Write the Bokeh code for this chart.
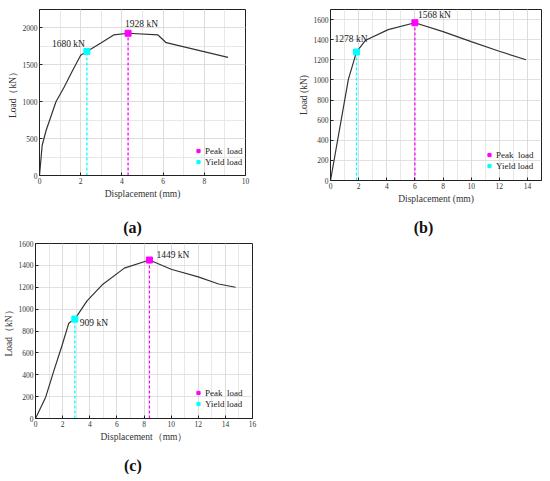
from bokeh.plotting import figure
from bokeh.models import (Range1d, SingleIntervalTicker, Legend, LegendItem, Label)
from bokeh.layouts import column, row
from bokeh.embed import file_html
from bokeh.resources import INLINE

# ---------------- data ----------------
a_x = [0, 0.13, 0.32, 0.8, 1.2, 1.6, 2.0, 2.3, 3.0, 3.6, 4.3, 5.75, 6.15, 9.15]
a_y = [0, 410, 610, 1000, 1200, 1420, 1630, 1680, 1800, 1905, 1928, 1905, 1800, 1600]
a_peak = (4.3, 1928)
a_yield = (2.3, 1680)

b_x = [0, 1.27, 1.85, 2.5, 4.1, 6.0, 8.0, 10.0, 12.0, 13.9]
b_y = [0, 1005, 1278, 1395, 1500, 1568, 1480, 1380, 1285, 1200]
b_peak = (6.0, 1568)
b_yield = (1.85, 1278)

c_x = [0, 0.75, 1.35, 1.95, 2.45, 2.9, 3.8, 4.9, 6.55, 8.4, 10.0, 12.0, 13.5, 14.75]
c_y = [0, 195, 435, 665, 870, 909, 1075, 1220, 1375, 1449, 1365, 1295, 1230, 1200]
c_peak = (8.4, 1449)
c_yield = (2.9, 909)

legend_labels = ["Peak  load", "Yield load"]
tags = ["(a)", "(b)", "(c)"]
PEAK_C = "#ff00ff"
YIELD_C = "#00ffff"
FONT = "Liberation Serif"


def make_panel(xs, ys, peak, yld, xr, yr, xint, yint, y_minor, xlabel, ylabel,
               fw, fh, bl, br, bt, bb, peak_lab, yield_lab, leg_loc):
    p = figure(frame_width=fw, frame_height=fh, output_backend="svg", toolbar_location=None,
               x_range=Range1d(*xr), y_range=Range1d(*yr),
               min_border_left=bl, min_border_right=br, min_border_top=bt, min_border_bottom=bb)
    p.background_fill_color = "white"
    p.border_fill_color = "white"
    p.outline_line_color = "#222222"
    p.outline_line_width = 1

    for ax, tk, nm in ((p.xaxis[0], xint, 2), (p.yaxis[0], yint, y_minor)):
        ax.ticker = SingleIntervalTicker(interval=tk, num_minor_ticks=nm)
        ax.major_tick_in = 3
        ax.major_tick_out = 0
        ax.minor_tick_in = 0
        ax.minor_tick_out = 0
        ax.axis_line_color = "#222222"
        ax.major_tick_line_color = "#222222"
        ax.major_label_text_font = FONT
        ax.major_label_text_font_size = "7.5px"
        ax.major_label_text_color = "#333333"
        ax.major_label_standoff = 2
        ax.axis_label_text_font = FONT
        ax.axis_label_text_font_size = "9.5px"
        ax.axis_label_text_font_style = "normal"
        ax.axis_label_text_color = "#333333"
        ax.axis_label_standoff = 2
    p.xaxis.axis_label = xlabel
    p.yaxis.axis_label = ylabel

    for g in (p.xgrid[0], p.ygrid[0]):
        g.grid_line_color = "#d9d9d9"
        g.grid_line_width = 0.8
        g.minor_grid_line_color = "#e2e2e2"
        g.minor_grid_line_width = 0.8

    # dashed drop lines
    p.segment(x0=[peak[0]], y0=[0], x1=[peak[0]], y1=[peak[1]],
              line_color=PEAK_C, line_width=1.3, line_dash="3 2")
    p.segment(x0=[yld[0]], y0=[0], x1=[yld[0]], y1=[yld[1]],
              line_color=YIELD_C, line_width=1.3, line_dash="3 2")

    p.line(xs, ys, line_color="#333333", line_width=1.2)

    rp = p.scatter([peak[0]], [peak[1]], marker="square", size=6,
                   fill_color=PEAK_C, line_color=PEAK_C)
    ry = p.scatter([yld[0]], [yld[1]], marker="square", size=6,
                   fill_color=YIELD_C, line_color=YIELD_C)

    # value labels
    for pt, (txt, align, dx, dy) in ((peak, peak_lab), (yld, yield_lab)):
        p.add_layout(Label(x=pt[0], y=pt[1], text=txt, text_align=align,
                           text_baseline="middle", x_offset=dx, y_offset=dy,
                           text_font=FONT, text_font_size="9.5px", text_color="#222222"))

    leg = Legend(items=[LegendItem(label=legend_labels[0], renderers=[rp]),
                        LegendItem(label=legend_labels[1], renderers=[ry])],
                 location=leg_loc, border_line_color=None, background_fill_alpha=0,
                 padding=0, margin=0, spacing=0, glyph_width=8, glyph_height=11,
                 label_height=11, label_standoff=3,
                 label_text_font=FONT, label_text_font_size="9px",
                 label_text_color="#222222")
    p.add_layout(leg)
    return p


def make_tag(w, h, txt, x, y):
    t = figure(width=w, height=h, output_backend="svg", toolbar_location=None,
               x_range=Range1d(0, w), y_range=Range1d(0, h),
               x_axis_type=None, y_axis_type=None,
               min_border_left=0, min_border_right=0, min_border_top=0, min_border_bottom=0)
    t.outline_line_color = None
    t.background_fill_color = "white"
    t.border_fill_color = "white"
    t.grid.visible = False
    t.add_layout(Label(x=x, y=y, text=txt, text_align="center", text_baseline="middle",
                       text_font=FONT, text_font_size="16px", text_font_style="bold",
                       text_color="#111111"))
    return t


pa = make_panel(a_x, a_y, a_peak, a_yield, (0, 10), (0, 2250), 2, 500, 2,
                "Displacement (mm)", "Load\uff08kN\uff09",
                206, 166, 39, 50, 9, 33,
                ("1928 kN", "left", -3, 9), ("1680 kN", "right", -2, 8), (155, 8))
pb = make_panel(b_x, b_y, b_peak, b_yield, (0, 15), (0, 1700), 2, 200, 0,
                "Displacement (mm)", "Load (kN)",
                211, 171, 35, 1, 7, 30,
                ("1568 kN", "left", 3, 8), ("1278 kN", "right", 11, 13), (155, 9))
pc = make_panel(c_x, c_y, c_peak, c_yield, (0, 16), (0, 1600), 2, 200, 0,
                "Displacement\uff08mm\uff09", "Load\uff08kN\uff09",
                217, 175, 35, 40, 5, 30,
                ("1449 kN", "left", 7, 5), ("909 kN", "left", 5, -4), (159, 9))

tag_a = make_tag(295, 30, tags[0], 132, 11)
tag_b = make_tag(247, 30, tags[1], 128, 11)
tag_c = make_tag(292, 26, tags[2], 131, 9)

layout = column(row(pa, pb), row(tag_a, tag_b), pc, tag_c)
open("out.html", "w").write(file_html(layout, INLINE))
